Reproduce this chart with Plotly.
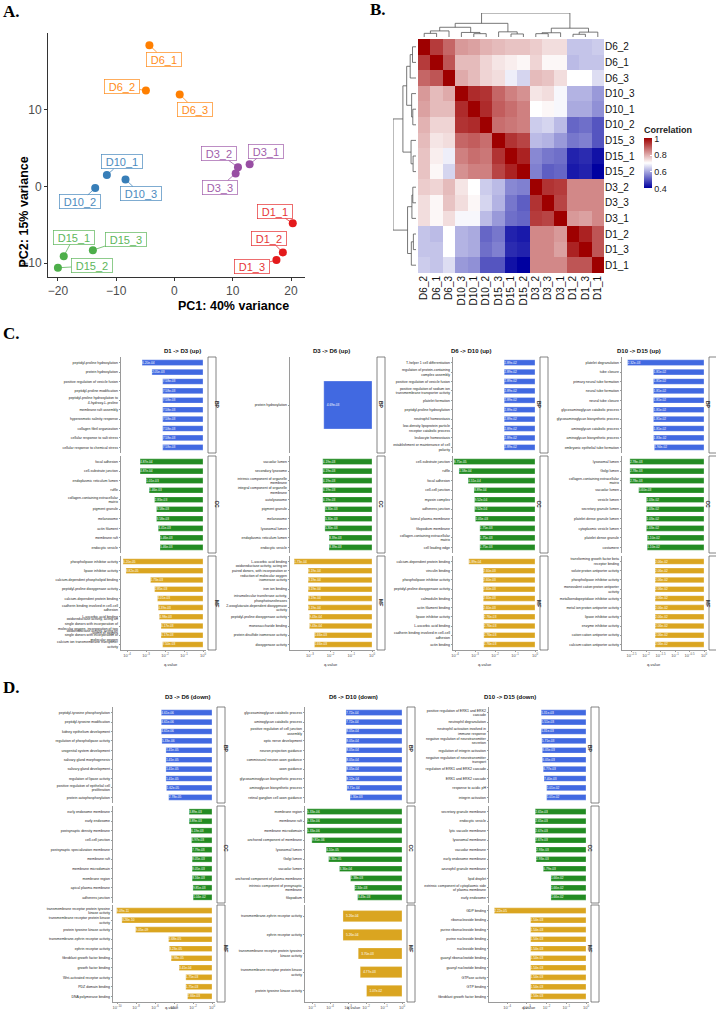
import textwrap
import numpy as np
import plotly.graph_objects as go

W, H = 716, 1015
def fx(p): return p / W
def fy(p): return 1 - p / H

# ---------------- Panel A: PCA ----------------
pca_samples = ["D1_1", "D1_2", "D1_3", "D3_1", "D3_2", "D3_3", "D6_1", "D6_2", "D6_3",
               "D10_1", "D10_2", "D10_3", "D15_1", "D15_2", "D15_3"]
pca_pc1 = [20.3, 18.6, 17.5, 12.9, 10.9, 10.5, -4.3, -4.9, 0.9, -11.6, -13.6, -8.4, -19.0, -20.0, -14.0]
pca_pc2 = [-4.8, -8.6, -9.6, 2.9, 2.5, 1.7, 18.4, 12.5, 12.0, 1.5, -0.2, 0.9, -9.1, -10.6, -8.3]
pca_group = ["D1", "D1", "D1", "D3", "D3", "D3", "D6", "D6", "D6",
             "D10", "D10", "D10", "D15", "D15", "D15"]
pca_xticks = [-20, -10, 0, 10, 20]
pca_yticks = [-10, 0, 10]

# ---------------- Panel B: correlation heatmap ----------------
hm_samples = ["D6_2", "D6_1", "D6_3", "D10_3", "D10_1", "D10_2", "D15_3", "D15_1", "D15_2",
              "D3_2", "D3_3", "D3_1", "D1_2", "D1_3", "D1_1"]
hm_corr = [
    [1.00, 0.93, 0.88, 0.82, 0.81, 0.79, 0.78, 0.77, 0.77, 0.76, 0.74, 0.74, 0.63, 0.63, 0.64],
    [0.93, 1.00, 0.90, 0.78, 0.78, 0.75, 0.73, 0.72, 0.71, 0.75, 0.71, 0.71, 0.62, 0.63, 0.63],
    [0.88, 0.90, 1.00, 0.80, 0.78, 0.75, 0.74, 0.68, 0.65, 0.78, 0.77, 0.74, 0.70, 0.70, 0.66],
    [0.82, 0.78, 0.80, 1.00, 0.95, 0.94, 0.88, 0.85, 0.83, 0.73, 0.74, 0.69, 0.61, 0.61, 0.58],
    [0.81, 0.78, 0.78, 0.95, 1.00, 0.95, 0.89, 0.87, 0.85, 0.70, 0.71, 0.69, 0.60, 0.60, 0.57],
    [0.79, 0.75, 0.75, 0.94, 0.95, 1.00, 0.87, 0.86, 0.85, 0.64, 0.65, 0.62, 0.52, 0.53, 0.50],
    [0.78, 0.73, 0.74, 0.88, 0.89, 0.87, 1.00, 0.94, 0.92, 0.62, 0.61, 0.58, 0.54, 0.55, 0.50],
    [0.77, 0.72, 0.68, 0.85, 0.87, 0.86, 0.94, 1.00, 0.96, 0.56, 0.54, 0.53, 0.44, 0.45, 0.42],
    [0.77, 0.71, 0.65, 0.83, 0.85, 0.85, 0.92, 0.96, 1.00, 0.55, 0.51, 0.52, 0.43, 0.44, 0.40],
    [0.76, 0.75, 0.78, 0.73, 0.70, 0.64, 0.62, 0.56, 0.55, 1.00, 0.94, 0.93, 0.84, 0.84, 0.84],
    [0.74, 0.71, 0.77, 0.74, 0.71, 0.65, 0.61, 0.54, 0.51, 0.94, 1.00, 0.92, 0.84, 0.84, 0.84],
    [0.74, 0.71, 0.74, 0.69, 0.69, 0.62, 0.58, 0.53, 0.52, 0.93, 0.92, 1.00, 0.82, 0.81, 0.84],
    [0.63, 0.62, 0.70, 0.61, 0.60, 0.52, 0.54, 0.44, 0.43, 0.84, 0.84, 0.82, 1.00, 0.96, 0.90],
    [0.63, 0.63, 0.70, 0.61, 0.60, 0.53, 0.55, 0.45, 0.44, 0.84, 0.84, 0.81, 0.96, 1.00, 0.90],
    [0.64, 0.63, 0.66, 0.58, 0.57, 0.50, 0.50, 0.42, 0.40, 0.84, 0.84, 0.84, 0.90, 0.90, 1.00],
]
hm_ticks = [0.4, 0.6, 0.8, 1.0]
hm_ticktext = ["0.4", "0.6", "0.8", "1"]
# hierarchical clustering merges: (left, right, height); merged clusters named m0, m1, ...
hc_merges = [
    ("D6_2", "D6_1", 12), ("m0", "D6_3", 20),
    ("D10_1", "D10_2", 11), ("D10_3", "m2", 15),
    ("m1", "m3", 32),
    ("D15_1", "D15_2", 10), ("D15_3", "m5", 17),
    ("m4", "m6", 45),
    ("D3_2", "D3_3", 11), ("m8", "D3_1", 14),
    ("D1_2", "D1_3", 9), ("m10", "D1_1", 16),
    ("m9", "m11", 29),
    ("m7", "m12", 79),
]

# ---------------- Panel C: GO enrichment (up) ----------------
c1_bp = [("peptidyl-proline hydroxylation", 6.20e-04), ("protein hydroxylation", 2.05e-03),
         ("positive regulation of vesicle fusion", 7.58e-03), ("peptidyl-proline modification", 7.58e-03),
         ("peptidyl-proline hydroxylation to 4-hydroxy-L-proline", 7.58e-03), ("membrane raft assembly", 7.58e-03),
         ("hyperosmotic salinity response", 7.58e-03), ("collagen fibril organization", 7.58e-03),
         ("cellular response to salt stress", 7.58e-03), ("cellular response to chemical stress", 7.58e-03)]
c1_cc = [("focal adhesion", 4.87e-04), ("cell-substrate junction", 4.87e-04),
         ("endoplasmic reticulum lumen", 1.01e-03), ("ruffle", 1.46e-03),
         ("collagen-containing extracellular matrix", 2.83e-03), ("pigment granule", 3.58e-03),
         ("melanosome", 3.58e-03), ("actin filament", 4.41e-03), ("membrane raft", 5.46e-03),
         ("endocytic vesicle", 5.46e-03)]
c1_mf = [("phospholipase inhibitor activity", 6.20e-05), ("lipase inhibitor activity", 8.82e-05),
         ("calcium-dependent phospholipid binding", 1.73e-03), ("peptidyl-proline dioxygenase activity", 2.85e-03),
         ("calcium-dependent protein binding", 4.01e-03), ("cadherin binding involved in cell-cell adhesion", 4.39e-03),
         ("L-ascorbic acid binding", 4.98e-03),
         ("oxidoreductase activity, acting on single donors with incorporation of molecular oxygen, incorporation of two atoms of oxygen", 6.17e-03),
         ("oxidoreductase activity, acting on single donors with incorporation of molecular oxygen", 6.17e-03),
         ("calcium ion transmembrane transporter activity", 7.50e-03)]

c2_bp = [("protein hydroxylation", 4.69e-03)]
c2_cc = [("vacuolar lumen", 4.19e-03), ("secondary lysosome", 4.19e-03),
         ("intrinsic component of organelle membrane", 4.19e-03), ("integral component of organelle membrane", 4.19e-03),
         ("autolysosome", 4.19e-03), ("pigment granule", 5.30e-03), ("melanosome", 5.30e-03),
         ("lysosomal lumen", 5.30e-03), ("endoplasmic reticulum lumen", 8.39e-03), ("endocytic vesicle", 8.39e-03)]
c2_mf = [("L-ascorbic acid binding", 1.73e-04),
         ("oxidoreductase activity, acting on paired donors, with incorporation or reduction of molecular oxygen", 8.19e-04),
         ("isomerase activity", 8.19e-04), ("iron ion binding", 8.19e-04),
         ("intramolecular transferase activity, phosphotransferases", 8.19e-04),
         ("2-oxoglutarate-dependent dioxygenase activity", 8.19e-04),
         ("peptidyl-proline dioxygenase activity", 9.43e-04), ("monosaccharide binding", 9.43e-04),
         ("protein disulfide isomerase activity", 1.66e-03), ("dioxygenase activity", 1.66e-03)]

c3_bp = [("T-helper 1 cell differentiation", 2.89e-02), ("regulation of protein-containing complex assembly", 2.89e-02),
         ("positive regulation of vesicle fusion", 2.89e-02),
         ("positive regulation of sodium ion transmembrane transporter activity", 2.89e-02),
         ("platelet formation", 2.89e-02), ("peptidyl-proline hydroxylation", 2.89e-02),
         ("neutrophil homeostasis", 2.89e-02), ("low-density lipoprotein particle receptor catabolic process", 2.89e-02),
         ("leukocyte homeostasis", 2.89e-02), ("establishment or maintenance of cell polarity", 2.89e-02)]
c3_cc = [("cell-substrate junction", 8.75e-05), ("ruffle", 1.58e-04), ("focal adhesion", 4.51e-04),
         ("cell-cell junction", 8.89e-04), ("myosin complex", 9.52e-04), ("adherens junction", 9.52e-04),
         ("lateral plasma membrane", 1.05e-03), ("filopodium membrane", 1.75e-03),
         ("collagen-containing extracellular matrix", 1.75e-03), ("cell leading edge", 1.75e-03)]
c3_mf = [("calcium-dependent protein binding", 4.89e-04), ("vinculin binding", 2.60e-03),
         ("phospholipase inhibitor activity", 2.60e-03), ("peptidyl-proline dioxygenase activity", 2.60e-03),
         ("calmodulin binding", 2.60e-03), ("actin filament binding", 2.60e-03),
         ("lipase inhibitor activity", 2.76e-03), ("L-ascorbic acid binding", 2.76e-03),
         ("cadherin binding involved in cell-cell adhesion", 2.76e-03), ("actin binding", 2.76e-03)]

c4_bp = [("platelet degranulation", 2.32e-03), ("tube closure", 1.81e-02), ("primary neural tube formation", 1.81e-02),
         ("neural tube formation", 1.81e-02), ("neural tube closure", 1.81e-02),
         ("glycosaminoglycan catabolic process", 1.81e-02), ("glycosaminoglycan biosynthetic process", 1.81e-02),
         ("aminoglycan catabolic process", 1.81e-02), ("aminoglycan biosynthetic process", 1.83e-02),
         ("embryonic epithelial tube formation", 1.94e-02)]
c4_cc = [("lysosomal lumen", 2.78e-03), ("Golgi lumen", 2.78e-03), ("collagen-containing extracellular matrix", 2.78e-03),
         ("vacuolar lumen", 5.60e-03), ("vesicle lumen", 1.03e-02), ("secretory granule lumen", 1.03e-02),
         ("platelet dense granule lumen", 1.03e-02), ("cytoplasmic vesicle lumen", 1.03e-02),
         ("platelet dense granule", 1.10e-02), ("costamere", 1.10e-02)]
c4_mf = [("transforming growth factor beta receptor binding", 2.06e-02), ("solute:proton antiporter activity", 2.06e-02),
         ("phospholipase inhibitor activity", 2.06e-02), ("monovalent cation:proton antiporter activity", 2.06e-02),
         ("metalloendopeptidase inhibitor activity", 2.06e-02), ("metal ion:proton antiporter activity", 2.06e-02),
         ("lipase inhibitor activity", 2.06e-02), ("enzyme inhibitor activity", 2.06e-02),
         ("cation:cation antiporter activity", 2.06e-02), ("calcium:cation antiporter activity", 2.06e-02)]

# ---------------- Panel D: GO enrichment (down) ----------------
d1_bp = [("peptidyl-tyrosine phosphorylation", 4.61e-06), ("peptidyl-tyrosine modification", 4.61e-06),
         ("kidney epithelium development", 4.61e-06), ("regulation of phospholipase activity", 5.33e-06),
         ("urogenital system development", 1.41e-05), ("salivary gland morphogenesis", 1.41e-05),
         ("salivary gland development", 1.41e-05), ("regulation of lipase activity", 1.41e-05),
         ("positive regulation of epithelial cell proliferation", 1.62e-05), ("protein autophosphorylation", 2.78e-05)]
d1_cc = [("early endosome membrane", 3.89e-03), ("early endosome", 3.89e-03),
         ("postsynaptic density membrane", 6.19e-03), ("cell-cell junction", 6.97e-03),
         ("postsynaptic specialization membrane", 7.79e-03), ("membrane raft", 8.05e-03),
         ("membrane microdomain", 8.05e-03), ("membrane region", 8.16e-03),
         ("apical plasma membrane", 9.85e-03), ("adherens junction", 1.04e-02)]
d1_mf = [("transmembrane receptor protein tyrosine kinase activity", 9.09e-11),
         ("transmembrane receptor protein kinase activity", 3.26e-10),
         ("protein tyrosine kinase activity", 9.05e-09), ("transmembrane-ephrin receptor activity", 2.68e-05),
         ("ephrin receptor activity", 3.23e-05), ("fibroblast growth factor binding", 4.98e-05),
         ("growth factor binding", 3.41e-04), ("Wnt-activated receptor activity", 1.75e-03),
         ("PDZ domain binding", 1.75e-03), ("DNA polymerase binding", 2.66e-03)]

d2_bp = [("glycosaminoglycan catabolic process", 7.72e-04), ("aminoglycan catabolic process", 7.72e-04),
         ("positive regulation of cell junction assembly", 8.05e-04), ("optic nerve development", 8.05e-04),
         ("neuron projection guidance", 8.05e-04), ("commissural neuron axon guidance", 8.05e-04),
         ("axon guidance", 8.05e-04), ("glycosaminoglycan biosynthetic process", 8.12e-04),
         ("aminoglycan biosynthetic process", 8.71e-04), ("retinal ganglion cell axon guidance", 1.30e-03)]
d2_cc = [("membrane region", 5.33e-06), ("membrane raft", 5.33e-06), ("membrane microdomain", 5.33e-06),
         ("anchored component of membrane", 9.81e-06), ("lysosomal lumen", 6.10e-05), ("Golgi lumen", 8.36e-05),
         ("vacuolar lumen", 3.36e-04), ("anchored component of plasma membrane", 1.38e-03),
         ("intrinsic component of presynaptic membrane", 2.34e-03), ("filopodium", 3.43e-03)]
d2_mf = [("transmembrane-ephrin receptor activity", 5.26e-04), ("ephrin receptor activity", 5.26e-04),
         ("transmembrane receptor protein tyrosine kinase activity", 3.70e-03),
         ("transmembrane receptor protein kinase activity", 4.77e-03),
         ("protein tyrosine kinase activity", 1.07e-02)]

d3_bp = [("positive regulation of ERK1 and ERK2 cascade", 5.31e-03), ("neutrophil degranulation", 5.51e-03),
         ("neutrophil activation involved in immune response", 5.31e-03),
         ("negative regulation of neurotransmitter secretion", 5.71e-03),
         ("regulation of integrin activation", 6.05e-03),
         ("negative regulation of neurotransmitter transport", 6.05e-03),
         ("regulation of ERK1 and ERK2 cascade", 6.77e-03), ("ERK1 and ERK2 cascade", 7.40e-03),
         ("response to acidic pH", 1.01e-02), ("integrin activation", 1.01e-02)]
d3_cc = [("secretory granule membrane", 2.65e-03), ("endocytic vesicle", 2.65e-03),
         ("lytic vacuole membrane", 2.67e-03), ("lysosomal membrane", 2.67e-03),
         ("vacuolar membrane", 2.93e-03), ("early endosome membrane", 2.93e-03),
         ("azurophil granule membrane", 6.79e-03), ("lipid droplet", 1.66e-02),
         ("extrinsic component of cytoplasmic side of plasma membrane", 1.66e-02), ("early endosome", 1.66e-02)]
d3_mf = [("GDP binding", 2.22e-05), ("ribonucleoside binding", 1.54e-03), ("purine ribonucleoside binding", 1.54e-03),
         ("purine nucleoside binding", 1.54e-03), ("nucleoside binding", 1.54e-03),
         ("guanyl ribonucleotide binding", 1.54e-03), ("guanyl nucleotide binding", 1.54e-03),
         ("GTPase activity", 1.54e-03), ("GTP binding", 1.54e-03), ("fibroblast growth factor binding", 1.54e-03)]

go_categories = ["BP", "CC", "MF"]

# ---------------- styles ----------------
FONT = "Liberation Sans"
SERIF = "Liberation Serif"
GROUP_COL = {"D1": "#E41A1C", "D3": "#984EA3", "D6": "#FF7F00", "D10": "#377EB8", "D15": "#4DAF4A"}
CAT_COL = {"BP": "#4169E1", "CC": "#228B22", "MF": "#DAA520"}
AXC = "#9a9a9a"

fig = go.Figure()
axes_layout = {}
counter = [0]
annotations = []
shapes = []


def new_axes(xdom, ydom, xopts, yopts):
    counter[0] += 1
    n = counter[0]
    sfx = "" if n == 1 else str(n)
    axes_layout["xaxis" + sfx] = dict(domain=xdom, anchor="y" + sfx, **xopts)
    axes_layout["yaxis" + sfx] = dict(domain=ydom, anchor="x" + sfx, **yopts)
    return "x" + sfx, "y" + sfx


def letter(txt, x, y):
    annotations.append(dict(text="<b>%s</b>" % txt, x=fx(x), y=fy(y), xref="paper", yref="paper",
                            xanchor="left", yanchor="middle", showarrow=False,
                            font=dict(family=SERIF, size=17, color="black")))


# ---------- Panel A ----------
letter("A.", 1, 11)
pa_axis = dict(showline=True, linecolor="#333", linewidth=1, ticks="outside", ticklen=3, tickcolor="#333",
               tickfont=dict(size=12, color="#4d4d4d"), showgrid=False, zeroline=False)
xa, ya = new_axes([fx(48), fx(305)], [fy(277), fy(33)],
                  dict(range=[-21.7, 22.4], tickvals=pca_xticks, **pa_axis),
                  dict(range=[-11.8, 20.0], tickvals=pca_yticks, **pa_axis))
for g in ["D1", "D3", "D6", "D10", "D15"]:
    idx = [i for i, gg in enumerate(pca_group) if gg == g]
    fig.add_trace(go.Scatter(x=[pca_pc1[i] for i in idx], y=[pca_pc2[i] for i in idx], mode="markers",
                             marker=dict(size=8, color=GROUP_COL[g]), xaxis=xa, yaxis=ya, hoverinfo="skip"))
# label offsets (pixels) of the repelled labels
label_offset = {"D6_1": (15, 14), "D6_2": (-24, -4), "D6_3": (15, 15), "D10_1": (15, -13), "D10_2": (-15, 14),
                "D10_3": (15, 14), "D3_1": (16, -13), "D3_2": (-19, -14), "D3_3": (-16, 14), "D1_1": (-18, -12),
                "D1_2": (-14, -14), "D1_3": (-24, 6), "D15_1": (10, -19), "D15_2": (34, -2), "D15_3": (33, -11)}
for s, x, y, g in zip(pca_samples, pca_pc1, pca_pc2, pca_group):
    ox, oy = label_offset[s]
    c = GROUP_COL[g]
    annotations.append(dict(text=" %s " % s, x=x, y=y, xref=xa, yref=ya, ax=ox, ay=oy, showarrow=True,
                            arrowhead=0, arrowwidth=0.8, arrowcolor=c, standoff=0,
                            font=dict(size=11, color=c), bgcolor="white", bordercolor=c,
                            borderwidth=0.7, borderpad=1, opacity=0.9))
annotations.append(dict(text="<b>PC1: 40% variance</b>", x=fx(176), y=fy(297), xref="paper", yref="paper",
                        showarrow=False, font=dict(size=12.5, color="black")))
annotations.append(dict(text="<b>PC2: 15% variance</b>", x=fx(14), y=fy(155), xref="paper", yref="paper",
                        showarrow=False, textangle=-90, font=dict(size=12.5, color="black")))

# ---------- Panel B ----------
letter("B.", 368, 9)
n = len(hm_samples)
z = np.array(hm_corr)
z = (z + z.T) / 2
idx = list(range(n))
xh, yh = new_axes([fx(418), fx(604)], [fy(273), fy(39)],
                  dict(range=[-0.5, n - 0.5], tickvals=idx, ticktext=hm_samples, tickangle=-90, ticks="",
                       showline=False, showgrid=False, zeroline=False, tickfont=dict(size=10, color="#111")),
                  dict(range=[n - 0.5, -0.5], tickvals=idx, ticktext=hm_samples, side="right", ticks="",
                       showline=False, showgrid=False, zeroline=False, tickfont=dict(size=10, color="#111")))
fig.add_trace(go.Heatmap(z=z, x=idx, y=idx, zmin=0.4, zmax=1.0, xaxis=xh, yaxis=yh, hoverinfo="skip",
                         colorscale=[[0, "#0000A0"], [0.5, "#FFFFFF"], [1, "#9E0000"]],
                         colorbar=dict(title=dict(text="<b>Correlation</b>", side="top", font=dict(size=9)),
                                       tickvals=hm_ticks, ticktext=hm_ticktext, lenmode="pixels", len=65,
                                       thickness=8, x=fx(644), xanchor="left", y=fy(156), yanchor="middle",
                                       outlinewidth=0, ticks="inside", tickcolor="white", ticklen=2,
                                       tickfont=dict(size=9), xpad=0, ypad=0)))


def dendro_segments(order, merges):
    pos = {nm: float(i) for i, nm in enumerate(order)}
    hgt = {nm: 0.0 for nm in order}
    xs, hs = [], []
    for k, (a, b, h) in enumerate(merges):
        xs += [pos[a], pos[a], pos[b], pos[b], None]
        hs += [hgt[a], h, h, hgt[b], None]
        pos["m%d" % k] = (pos[a] + pos[b]) / 2
        hgt["m%d" % k] = h
    return xs, hs


dxs, dhs = dendro_segments(hm_samples, hc_merges)
hmax = max(m[2] for m in hc_merges)
xt, yt = new_axes([fx(418), fx(604)], [fy(37), fy(13)],
                  dict(range=[-0.5, n - 0.5], visible=False), dict(range=[0, hmax], visible=False))
fig.add_trace(go.Scatter(x=dxs, y=dhs, mode="lines", line=dict(color="#555", width=0.8),
                         xaxis=xt, yaxis=yt, hoverinfo="skip"))
xl, yl = new_axes([fx(393), fx(416)], [fy(273), fy(39)],
                  dict(range=[hmax, 0], visible=False), dict(range=[n - 0.5, -0.5], visible=False))
fig.add_trace(go.Scatter(x=dhs, y=dxs, mode="lines", line=dict(color="#555", width=0.8),
                         xaxis=xl, yaxis=yl, hoverinfo="skip"))


# ---------- Panels C and D ----------
def tick_label(t):
    s = ("%g" % t).replace("-", "\u2212")
    return "10<sup>%s</sup>" % s


def go_panel(title, facets, axis_px, zero_px, k, ticks, bounds, title_y, q_y, title_size):
    xmin = -(zero_px - axis_px) / k
    xmax = 3.0 / k
    for fi, (cat, items) in enumerate(zip(go_categories, facets)):
        top, bot = bounds[fi]
        labels = ["<br>".join(textwrap.wrap(t, 39)) for t, q in items]
        qs = [q for t, q in items]
        m = len(items)
        bottom = fi == len(facets) - 1
        xopts = dict(range=[xmin, xmax], showgrid=False, zeroline=False, showline=bottom, linecolor=AXC,
                     linewidth=0.7, ticks="outside" if bottom else "", ticklen=1.5, tickcolor=AXC,
                     tickwidth=0.6, showticklabels=bottom, tickvals=ticks,
                     ticktext=[tick_label(t) for t in ticks], tickfont=dict(size=4, color="#555"))
        yopts = dict(type="category", categoryorder="array", categoryarray=labels, range=[m - 0.4, -0.6],
                     showline=True, linecolor=AXC, linewidth=0.7, ticks="outside", ticklen=1.5, tickcolor=AXC,
                     tickwidth=0.6, showgrid=False, zeroline=False, tickfont=dict(size=3.5, color="#222"))
        xa_, ya_ = new_axes([fx(axis_px), fx(zero_px + 3)], [fy(bot), fy(top)], xopts, yopts)
        fig.add_trace(go.Bar(x=np.log10(qs), y=labels, orientation="h", width=0.6,
                             marker=dict(color=CAT_COL[cat], line=dict(color="rgba(255,255,255,0.7)", width=0.4)),
                             text=["%.2e" % q for q in qs], textposition="inside", insidetextanchor="end",
                             textangle=0, constraintext="none", textfont=dict(size=3.2, color="white"),
                             xaxis=xa_, yaxis=ya_, hoverinfo="skip"))
        sx0, sx1 = zero_px + 5, zero_px + 13
        shapes.append(dict(type="rect", xref="paper", yref="paper", x0=fx(sx0), x1=fx(sx1), y0=fy(bot),
                           y1=fy(top), line=dict(color="#666", width=0.8), fillcolor="white"))
        annotations.append(dict(text="<b>%s</b>" % cat, x=fx((sx0 + sx1) / 2), y=fy((top + bot) / 2),
                                xref="paper", yref="paper", showarrow=False, textangle=90,
                                font=dict(size=5, color="#222")))
    center = (axis_px + zero_px) / 2
    annotations.append(dict(text="<b>%s</b>" % title, x=fx(center), y=fy(title_y), xref="paper", yref="paper",
                            showarrow=False, font=dict(size=title_size, color="#111")))
    annotations.append(dict(text="q-value", x=fx(center), y=fy(q_y), xref="paper", yref="paper",
                            showarrow=False, font=dict(size=4, color="#333")))


c_bounds = [(357, 453), (456, 553), (556, 650)]
d_bounds = [(707, 803), (806, 903), (905, 1002)]
letter("C.", 1, 333)
go_panel("D1 -> D3 (up)", [c1_bp, c1_cc, c1_mf], 121, 203, 19.0, [-4, -3, -2, -1, 0], c_bounds, 351, 664, 6)
go_panel("D3 -> D6 (up)", [c2_bp, c2_cc, c2_mf], 290, 372, 20.7, [-3, -2, -1, 0], c_bounds, 351, 664, 6)
go_panel("D6 -> D10 (up)", [c3_bp, c3_cc, c3_mf], 453, 535, 20.0, [-4, -3, -2, -1, 0], c_bounds, 351, 664, 6)
go_panel("D10 -> D15 (up)", [c4_bp, c4_cc, c4_mf], 622, 704, 29.0, [-2.5, -2, -1.5, -1, -0.5, 0],
         c_bounds, 351, 664, 6)
letter("D.", 1, 687)
go_panel("D3 -> D6 (down)", [d1_bp, d1_cc, d1_mf], 113, 212, 9.5, [-10, -8, -6, -4, -2, 0], d_bounds, 702, 1012, 6)
go_panel("D6 -> D10 (down)", [d2_bp, d2_cc, d2_mf], 305, 402, 18.0, [-5, -4, -3, -2, -1, 0], d_bounds, 702, 1012, 6)
go_panel("D10 -> D15 (down)", [d3_bp, d3_cc, d3_mf], 489, 586, 19.7, [-4, -3, -2, -1, 0], d_bounds, 702, 1012, 6)

fig.update_layout(template="none", width=W, height=H, margin=dict(l=0, r=0, t=0, b=0),
                  paper_bgcolor="white", plot_bgcolor="rgba(0,0,0,0)", showlegend=False,
                  font=dict(family=FONT, color="#222"), annotations=annotations, shapes=shapes,
                  **axes_layout)
fig.write_html("out.html")
